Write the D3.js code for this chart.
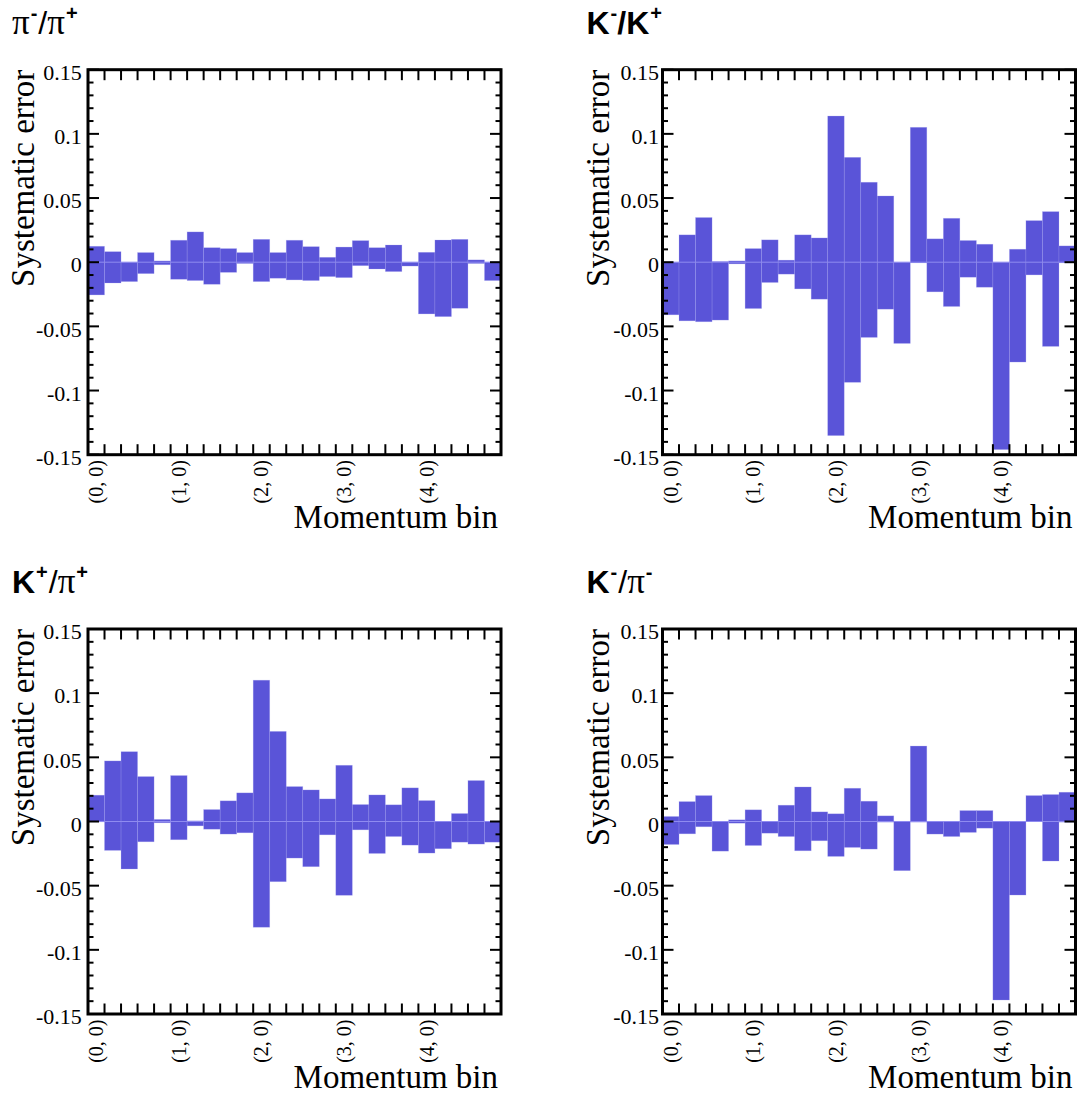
<!DOCTYPE html>
<html>
<head>
<meta charset="utf-8">
<script src="https://cdn.jsdelivr.net/npm/d3@7"></script>
<style>
  html, body { margin: 0; padding: 0; background: #fff; }
  svg { display: block; }
</style>
</head>
<body>
<svg id="chart" width="1080" height="1095"></svg>
<script>
// ---------- data ----------
const nBins = 25;
const binLabels = ["(0, 0)", "(1, 0)", "(2, 0)", "(3, 0)", "(4, 0)"];
const labelBins = [0, 5, 10, 15, 20];
const yTickValues = [-0.15, -0.1, -0.05, 0, 0.05, 0.1, 0.15];
const yTickLabels = ["-0.15", "-0.1", "-0.05", "0", "0.05", "0.1", "0.15"];

const pipiUp   = [0.0124,0.0082,0.0,0.0075,0.001,0.0171,0.0236,0.0113,0.0106,0.0075,0.0178,0.0075,0.0171,0.0121,0.0038,0.0118,0.0168,0.0113,0.0134,0.0,0.0077,0.0173,0.0178,0.0018,0.0];
const pipiDown = [-0.0255,-0.0162,-0.0151,-0.0089,-0.002,-0.0133,-0.0143,-0.0172,-0.0079,-0.001,-0.0151,-0.0125,-0.0138,-0.0143,-0.0112,-0.012,-0.0027,-0.0053,-0.0073,-0.003,-0.0403,-0.0424,-0.0359,-0.001,-0.0143];

const kkUp   = [0.0,0.0213,0.0348,0.0005,0.001,0.0106,0.0174,0.0016,0.0213,0.0189,0.1139,0.0817,0.0623,0.0516,0.0,0.1051,0.0182,0.0342,0.0169,0.014,0.0,0.0101,0.0324,0.0394,0.0127];
const kkDown = [-0.041,-0.0457,-0.0464,-0.0451,-0.0013,-0.0361,-0.0158,-0.0093,-0.0208,-0.0288,-0.1351,-0.0936,-0.0586,-0.0366,-0.0633,-0.0005,-0.0231,-0.0345,-0.0117,-0.0195,-0.146,-0.0778,-0.0099,-0.0656,-0.0005];

const kpiPlusUp   = [0.0205,0.0472,0.0544,0.035,0.0016,0.0358,0.0005,0.0093,0.0161,0.0223,0.1101,0.0702,0.0272,0.0246,0.0176,0.0438,0.0132,0.0207,0.013,0.0262,0.0163,0.0,0.0062,0.0319,0.0];
const kpiPlusDown = [-0.0003,-0.0225,-0.037,-0.0158,-0.001,-0.0142,-0.0034,-0.006,-0.0098,-0.0088,-0.0824,-0.0469,-0.0285,-0.0352,-0.0104,-0.0575,-0.0065,-0.0249,-0.0117,-0.0184,-0.0246,-0.0212,-0.0161,-0.0176,-0.0161];

const kpiMinusUp   = [0.0039,0.0155,0.0202,0.0,0.0013,0.0091,0.0,0.0127,0.0269,0.0075,0.006,0.0259,0.0158,0.0044,0.0,0.0588,0.0,0.0,0.0085,0.0085,0.0,0.0,0.0202,0.021,0.0228];
const kpiMinusDown = [-0.0179,-0.0096,-0.0041,-0.0231,-0.0013,-0.0187,-0.0091,-0.0117,-0.0228,-0.015,-0.0272,-0.0202,-0.0215,-0.0005,-0.0383,-0.0005,-0.0098,-0.0117,-0.0085,-0.0052,-0.1391,-0.0573,0.0,-0.0308,-0.0005];

const yTitle = "Systematic error";
const xTitle = "Momentum bin";

// title pieces: [text, kind] kind: "main" | "pi" | "sup" | "slash"
const titles = [
  [["π","pi"],["-","sup"],["/","slash"],["π","pi"],["+","sup"]],
  [["K","main"],["-","sup"],["/","main"],["K","main"],["+","sup"]],
  [["K","main"],["+","sup"],["/","slash"],["π","pi"],["+","sup"]],
  [["K","main"],["-","sup"],["/","slash"],["π","pi"],["-","sup"]]
];
const panelUp   = [pipiUp, kkUp, kpiPlusUp, kpiMinusUp];
const panelDown = [pipiDown, kkDown, kpiPlusDown, kpiMinusDown];

// ---------- layout ----------
const panels = [
  {x0: 88,    y0: 69.7, gap: 6.3},
  {x0: 662.5, y0: 69.7, gap: 3.5},
  {x0: 88,    y0: 629,  gap: 6.3},
  {x0: 662.5, y0: 629,  gap: 3.5}
];
const W = 413, H = 385;
const barColor = "#5a54d8";
const serif = "'Liberation Serif', 'Times New Roman', serif";
const sans = "'Liberation Sans', Arial, sans-serif";

const svg = d3.select("#chart");
svg.append("rect").attr("width", 1080).attr("height", 1095).attr("fill", "#fff");

panels.forEach((p, i) => {
  const g = svg.append("g").attr("transform", `translate(${p.x0},${p.y0})`);
  const x = d3.scaleLinear().domain([0, nBins]).range([0, W]);
  const y = d3.scaleLinear().domain([-0.15, 0.15]).range([H, 0]);
  const up = panelUp[i], down = panelDown[i];
  const data = d3.range(nBins).map(k => ({k, hi: up[k], lo: down[k]}));

  // bars
  g.selectAll("rect.bar").data(data).join("rect")
    .attr("class", "bar")
    .attr("x", d => x(d.k))
    .attr("width", d => x(d.k + 1) - x(d.k))
    .attr("y", d => y(d.hi))
    .attr("height", d => Math.max(1.2, y(d.lo) - y(d.hi)))
    .attr("fill", barColor)
    .attr("stroke", "#a7a3f2")
    .attr("stroke-opacity", 0.35)
    .attr("stroke-width", 0.7);

  // central (zero) line within bars
  g.selectAll("line.zero").data(data).join("line")
    .attr("class", "zero")
    .attr("x1", d => x(d.k)).attr("x2", d => x(d.k + 1))
    .attr("y1", y(0)).attr("y2", y(0))
    .attr("stroke", "#8f8bf0").attr("stroke-width", 1);

  // ticks
  const ax = g.append("g").attr("stroke", "#000").attr("stroke-width", 2);
  const minor = d3.range(-15, 16).filter(v => v % 5 !== 0).map(v => v / 100);
  minor.forEach(v => {
    ax.append("line").attr("x1", 0).attr("x2", 5.5).attr("y1", y(v)).attr("y2", y(v));
    ax.append("line").attr("x1", W).attr("x2", W - 5.5).attr("y1", y(v)).attr("y2", y(v));
  });
  yTickValues.forEach(v => {
    ax.append("line").attr("x1", 0).attr("x2", 11).attr("y1", y(v)).attr("y2", y(v));
    ax.append("line").attr("x1", W).attr("x2", W - 11).attr("y1", y(v)).attr("y2", y(v));
  });
  d3.range(1, nBins).forEach(k => {
    ax.append("line").attr("x1", x(k)).attr("x2", x(k)).attr("y1", H).attr("y2", H - 10.5);
    ax.append("line").attr("x1", x(k)).attr("x2", x(k)).attr("y1", 0).attr("y2", 10.5);
  });

  // frame
  g.append("rect").attr("x", 0).attr("y", 0).attr("width", W).attr("height", H)
    .attr("fill", "none").attr("stroke", "#000").attr("stroke-width", 3);

  // y tick labels
  g.selectAll("text.ylab").data(yTickValues).join("text")
    .attr("class", "ylab")
    .attr("x", -p.gap)
    .attr("y", v => y(v) + 3)
    .attr("dy", "0.33em")
    .attr("text-anchor", "end")
    .attr("font-family", serif).attr("font-size", 22)
    .text((v, j) => yTickLabels[j]);

  // x tick labels (rotated)
  labelBins.forEach((b, j) => {
    const cx = x(b + 0.5);
    g.append("text")
      .attr("transform", `translate(${cx},${H + 5.5}) rotate(-90)`)
      .attr("dy", "0.35em")
      .attr("text-anchor", "end")
      .attr("font-family", serif).attr("font-size", 20)
      .text(binLabels[j]);
  });

  // axis titles
  g.append("text")
    .attr("transform", `translate(${-54},0) rotate(-90)`)
    .attr("text-anchor", "end")
    .attr("font-family", serif).attr("font-size", 33)
    .text(yTitle);
  g.append("text")
    .attr("x", W - 3).attr("y", H + 73.5)
    .attr("text-anchor", "end")
    .attr("font-family", serif).attr("font-size", 33)
    .text(xTitle);

  // panel title
  const t = g.append("text").attr("x", -76).attr("y", -36);
  let raised = false;
  titles[i].forEach(([s, kind]) => {
    const ts = t.append("tspan").text(s);
    if (kind === "sup") {
      ts.attr("font-family", sans).attr("font-weight", "bold").attr("font-size", 20)
        .attr("dy", raised ? 0 : -14).attr("dx", 1);
      raised = true;
    } else {
      ts.attr("dy", raised ? 14 : 0);
      raised = false;
      if (kind === "pi") ts.attr("font-family", serif).attr("font-size", 35);
      else if (kind === "slash") ts.attr("font-family", sans).attr("font-size", 32).attr("dx", 1);
      else ts.attr("font-family", sans).attr("font-weight", "bold").attr("font-size", 32);
    }
  });
});
</script>
</body>
</html>
